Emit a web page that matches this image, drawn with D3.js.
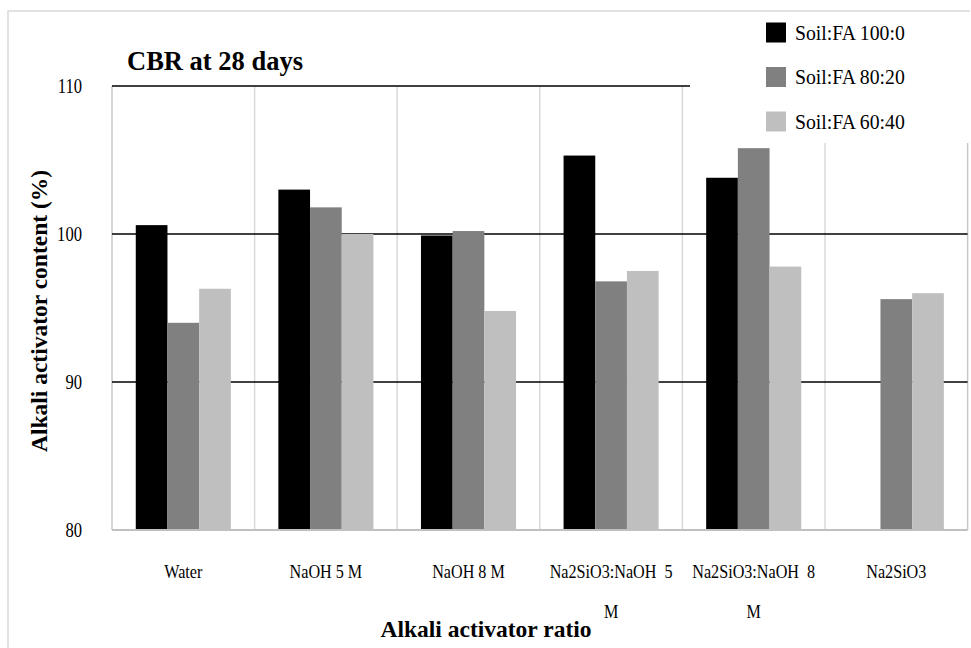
<!DOCTYPE html>
<html>
<head>
<meta charset="utf-8">
<script src="https://cdn.jsdelivr.net/npm/d3@7"></script>
<style>
  html, body { margin: 0; padding: 0; background: #fff; }
  svg { display: block; }
</style>
</head>
<body>
<svg id="chart" width="971" height="648"></svg>
<script>
// Alkali activator categories (x axis), one label line per entry
const categories = ["Water", "NaOH 5 M", "NaOH 8 M", "Na2SiO3:NaOH 5 M", "Na2SiO3:NaOH 8 M", "Na2SiO3"];
const categoryLines = [
  ["Water"],
  ["NaOH 5 M"],
  ["NaOH 8 M"],
  ["Na2SiO3:NaOH  5", "M"],
  ["Na2SiO3:NaOH  8", "M"],
  ["Na2SiO3"]
];

// Series: soil / fly-ash mix ratios
const seriesNames = ["Soil:FA 100:0", "Soil:FA 80:20", "Soil:FA 60:40"];
const soilFA100_0 = [100.6, 103.0, 99.9, 105.3, 103.8, null];
const soilFA80_20 = [94.0, 101.8, 100.2, 96.8, 105.8, 95.6];
const soilFA60_40 = [96.3, 100.0, 94.8, 97.5, 97.8, 96.0];
const seriesColors = ["#000000", "#808080", "#bfbfbf"];

// Y axis ticks
const yTicks = [80, 90, 100, 110];
const yDomain = [80, 110];

const seriesValues = [soilFA100_0, soilFA80_20, soilFA60_40];

const FONT = '"Liberation Serif", "Times New Roman", serif';
const svg = d3.select("#chart");
const W = 971, H = 648;
const plot = { left: 112, right: 967.6, top: 86, bottom: 530 };

const x = d3.scaleBand().domain(categories).range([plot.left, plot.right]).paddingInner(0).paddingOuter(0);
const xs = d3.scaleBand().domain(seriesNames).range([0, x.bandwidth()]).paddingInner(0).paddingOuter(0.75);
const y = d3.scaleLinear().domain(yDomain).range([plot.bottom, plot.top]);

// narrow serif text: places text at (px,py) with a horizontal squeeze
function squeezed(parent, px, py, str, size, weight, anchor, sx, rotate) {
  const g = parent.append("g")
    .attr("transform", `translate(${px},${py})` + (rotate ? ` rotate(${rotate})` : "") + ` scale(${sx},1)`);
  return g.append("text")
    .attr("text-anchor", anchor)
    .style("font-family", FONT)
    .style("font-size", size + "px")
    .style("font-weight", weight)
    .style("white-space", "pre")
    .attr("fill", "#000")
    .text(str);
}

// outer frame (left and top edges)
svg.append("path")
  .attr("d", `M8,${H} L8,11 L970,11`)
  .attr("fill", "none")
  .attr("stroke", "#d9d9d9")
  .attr("stroke-width", 1.5);

// vertical category separators
svg.append("g").selectAll("line")
  .data(categories.slice(1))
  .join("line")
  .attr("x1", d => x(d)).attr("x2", d => x(d))
  .attr("y1", plot.top).attr("y2", plot.bottom)
  .attr("stroke", "#d9d9d9").attr("stroke-width", 1.5);

// plot side edges
svg.append("g").selectAll("line")
  .data([plot.left, plot.right])
  .join("line")
  .attr("x1", d => d).attr("x2", d => d)
  .attr("y1", plot.top).attr("y2", plot.bottom)
  .attr("stroke", "#c8c8c8").attr("stroke-width", 1.5);

// horizontal gridlines
svg.append("g").selectAll("line")
  .data(yTicks.filter(t => t > yDomain[0]))
  .join("line")
  .attr("x1", plot.left).attr("x2", plot.right)
  .attr("y1", d => y(d)).attr("y2", d => y(d))
  .attr("stroke", "#000").attr("stroke-width", 1.6);

// bars
const barData = [];
categories.forEach((c, i) => {
  seriesNames.forEach((s, j) => {
    const v = seriesValues[j][i];
    if (v != null) barData.push({ c, s, v, color: seriesColors[j] });
  });
});
svg.append("g").selectAll("rect")
  .data(barData)
  .join("rect")
  .attr("x", d => x(d.c) + xs(d.s))
  .attr("width", xs.bandwidth())
  .attr("y", d => y(d.v))
  .attr("height", d => y(yDomain[0]) - y(d.v))
  .attr("fill", d => d.color);

// bottom axis line
svg.append("line")
  .attr("x1", plot.left).attr("x2", plot.right)
  .attr("y1", plot.bottom).attr("y2", plot.bottom)
  .attr("stroke", "#c0c0c0").attr("stroke-width", 2);

// y tick labels
const yAxis = svg.append("g").attr("transform", `translate(${plot.left},0)`)
  .call(d3.axisLeft(y).tickValues(yTicks).tickSize(0).tickPadding(0).tickFormat(d3.format("d")));
yAxis.select(".domain").remove();
yAxis.selectAll("text")
  .attr("x", 0)
  .style("font-family", FONT)
  .style("font-size", "20px")
  .attr("fill", "#000")
  .attr("transform", "translate(-30,0) scale(0.83,1)");

// category labels
const catG = svg.append("g");
categories.forEach((c, i) => {
  const cx = x(c) + x.bandwidth() / 2;
  categoryLines[i].forEach((line, k) => {
    squeezed(catG, cx, 578 + k * 40, line, 19, "normal", "middle", 0.85);
  });
});

// legend box
const legendBox = { x: 690, y: 12.5, w: 281, h: 130.5 };
svg.append("rect")
  .attr("x", legendBox.x).attr("y", legendBox.y)
  .attr("width", legendBox.w).attr("height", legendBox.h)
  .attr("fill", "#fff");
const legend = svg.append("g");
seriesNames.forEach((s, j) => {
  const cy = 32.5 + j * 44.5;
  legend.append("rect")
    .attr("x", 766).attr("y", cy - 10)
    .attr("width", 20).attr("height", 20)
    .attr("fill", seriesColors[j]);
  squeezed(legend, 795, cy + 7, s, 21, "normal", "start", 0.94);
});

// title and axis titles
squeezed(svg, 127, 70, "CBR at 28 days", 26.5, "bold", "start", 1);
squeezed(svg, 486, 637, "Alkali activator ratio", 23.5, "bold", "middle", 1);
squeezed(svg, 47, (plot.top + plot.bottom) / 2 + 3, "Alkali activator content (%)", 23.5, "bold", "middle", 1, -90);
</script>
</body>
</html>
